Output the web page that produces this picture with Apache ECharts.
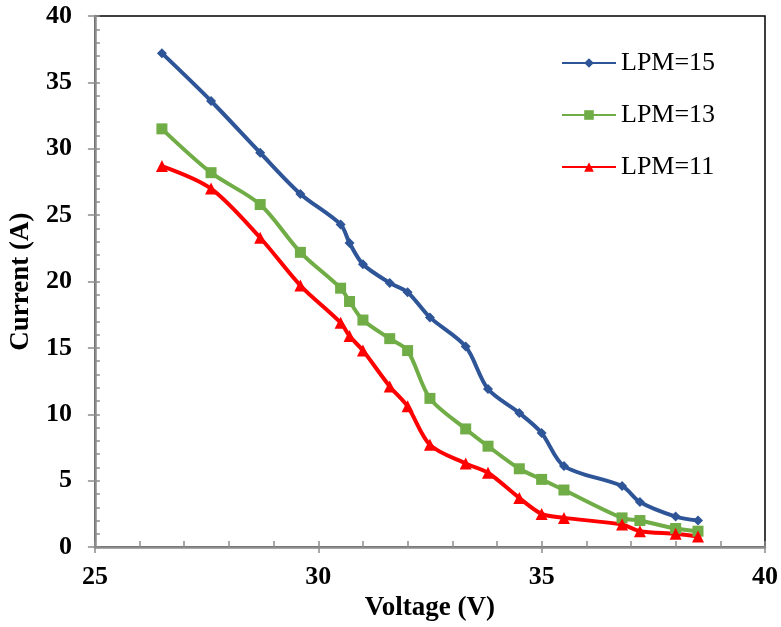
<!DOCTYPE html>
<html><head><meta charset="utf-8">
<script src="https://cdn.jsdelivr.net/npm/echarts@6/dist/echarts.min.js"></script>
<style>html,body{margin:0;padding:0;background:#fff}#c{width:781px;height:627px}</style>
</head><body><div id="c"></div>
<script>
const voltage = [26.5, 27.6, 28.7, 29.6, 30.5, 30.7, 31.0, 31.6, 32.0, 32.5, 33.3, 33.8, 34.5, 35.0, 35.5, 36.8, 37.2, 38.0, 38.5];
const lpm15 = [37.2, 33.6, 29.7, 26.6, 24.3, 22.9, 21.3, 19.9, 19.2, 17.3, 15.1, 11.9, 10.1, 8.6, 6.1, 4.6, 3.4, 2.3, 2.0];
const lpm13 = [31.5, 28.2, 25.8, 22.2, 19.5, 18.5, 17.1, 15.7, 14.8, 11.2, 8.9, 7.6, 5.9, 5.1, 4.3, 2.2, 2.0, 1.4, 1.2];
const lpm11 = [28.7, 27.0, 23.3, 19.7, 16.9, 15.9, 14.8, 12.1, 10.6, 7.7, 6.3, 5.6, 3.7, 2.5, 2.2, 1.7, 1.2, 1.0, 0.8];
const seriesNames = ['LPM=15', 'LPM=13', 'LPM=11'];

const pair = arr => voltage.map((v, i) => [v, arr[i]]);
const font = '"Liberation Serif","Times New Roman",serif';
const axisGray = '#8c8c8c';

const chart = echarts.init(document.getElementById('c'));
const mk = (name, data, color, symbol, size) => ({
  name, type: 'line', data: pair(data), smooth: 0.3,
  symbol, symbolSize: size, showSymbol: true,
  lineStyle: { color, width: 4 }, itemStyle: { color },
  xAxisIndex: 0, yAxisIndex: 0, z: 5
});
chart.setOption({
  animation: false,
  grid: { left: 94.5, right: 12.5, top: 16, bottom: 76, show: true, borderColor: '#000', borderWidth: 1.5, containLabel: false },
  legend: {
    orient: 'vertical', left: 561, top: 50, padding: 0, itemWidth: 54, itemHeight: 12, itemGap: 26,
    textStyle: { fontFamily: font, fontSize: 26, color: '#000' },
    data: seriesNames
  },
  xAxis: [{
    type: 'value', min: 25, max: 40, interval: 5, position: 'bottom',
    name: 'Voltage (V)', nameLocation: 'middle', nameGap: 42,
    nameTextStyle: { fontFamily: font, fontSize: 27, fontWeight: 'bold', color: '#000' },
    axisLine: { show: true, onZero: false, lineStyle: { color: axisGray, width: 2.5 } },
    axisTick: { show: true, inside: false, length: 6, lineStyle: { color: axisGray, width: 1.5 } },
    axisLabel: { fontFamily: font, fontSize: 26, fontWeight: 'bold', color: '#000', margin: 17 },
    splitLine: { show: false }
  }, {
    type: 'value', min: 25, max: 40, interval: 1, position: 'bottom',
    axisLine: { show: false }, axisLabel: { show: false },
    axisTick: { show: true, inside: true, length: 6, lineStyle: { color: axisGray, width: 1.5 } },
    splitLine: { show: false }
  }],
  yAxis: [{
    type: 'value', min: 0, max: 40, interval: 5, position: 'left',
    name: 'Current (A)', nameLocation: 'middle', nameGap: 56, nameRotate: 90,
    nameTextStyle: { fontFamily: font, fontSize: 27, fontWeight: 'bold', color: '#000' },
    axisLine: { show: true, onZero: false, lineStyle: { color: axisGray, width: 2.5 } },
    axisTick: { show: true, inside: false, length: 7, lineStyle: { color: axisGray, width: 1.5 } },
    axisLabel: { fontFamily: font, fontSize: 26, fontWeight: 'bold', color: '#000', margin: 23 },
    splitLine: { show: false }
  }, {
    type: 'value', min: 0, max: 40, interval: 1, position: 'left',
    axisLine: { show: false }, axisLabel: { show: false },
    axisTick: { show: true, inside: true, length: 5, lineStyle: { color: axisGray, width: 1.5 } },
    splitLine: { show: false }
  }],
  series: [
    mk(seriesNames[0], lpm15, '#2E5597', 'diamond', 10),
    mk(seriesNames[1], lpm13, '#70AD47', 'rect', 11),
    mk(seriesNames[2], lpm11, '#FF0000', 'triangle', 12)
  ]
});
</script></body></html>
